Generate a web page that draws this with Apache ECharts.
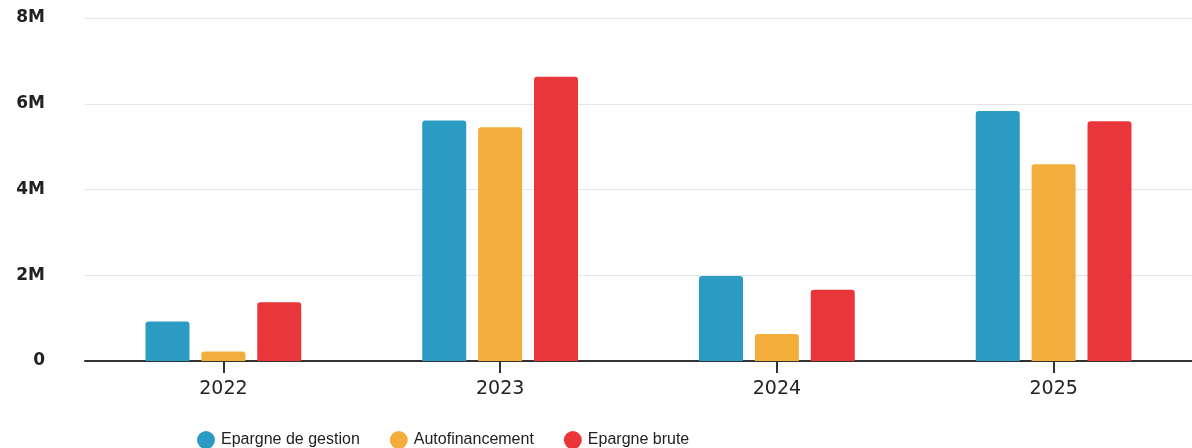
<!DOCTYPE html>
<html>
<head>
<meta charset="utf-8">
<script src="https://cdn.jsdelivr.net/npm/echarts@6/dist/echarts.min.js"></script>
<style>html,body{margin:0;padding:0;background:#fff;}#c{width:1192px;height:448px;}</style>
</head>
<body>
<div id="c"></div>
<script>
const categories = ['2022', '2023', '2024', '2025'];
const epargneGestion = [920000, 5610000, 1980000, 5830000];
const autofinancement = [220000, 5450000, 630000, 4590000];
const epargneBrute = [1370000, 6630000, 1660000, 5590000];
const yTicks = [0, 2000000, 4000000, 6000000, 8000000];

const chart = echarts.init(document.getElementById('c'));
const legendFont = 'Liberation Sans, Arial, sans-serif';
const axisFont = 'DejaVu Sans, Verdana, sans-serif';
function fmt(v) { return v === 0 ? '0' : (v / 1000000) + 'M'; }
const barBase = { type: 'bar', barWidth: 44, barGap: '27%', z: 3 };
chart.setOption({
  animation: false,
  grid: { left: 85, top: 18, width: 1112, height: 343 },
  legend: {
    left: 192, top: 426,
    icon: 'circle', itemWidth: 20, itemHeight: 18, itemGap: 30,
    textStyle: { fontFamily: legendFont, fontSize: 16, color: '#222' },
    data: ['Epargne de gestion', 'Autofinancement', 'Epargne brute']
  },
  xAxis: {
    type: 'category', data: categories,
    axisLine: { show: true, lineStyle: { color: '#333', width: 2 } },
    axisTick: { show: true, alignWithLabel: true, length: 12, lineStyle: { color: '#333', width: 2 } },
    axisLabel: { fontFamily: axisFont, fontSize: 19, color: '#222', margin: 19 },
    z: 1
  },
  yAxis: {
    type: 'value', min: yTicks[0], max: yTicks[yTicks.length - 1], interval: 2000000,
    axisLabel: { fontFamily: axisFont, fontSize: 17, fontWeight: 'bold', color: '#222', margin: 40, padding: [6, 0, 0, 0], formatter: fmt },
    splitLine: { lineStyle: { color: '#e4e6e8', width: 1 } },
    axisLine: { show: false }, axisTick: { show: false }
  },
  series: [
    Object.assign({}, barBase, { name: 'Epargne de gestion', data: epargneGestion, itemStyle: { color: '#2b9bc3', borderRadius: [3, 3, 0, 0] } }),
    Object.assign({}, barBase, { name: 'Autofinancement', data: autofinancement, itemStyle: { color: '#f3ad3a', borderRadius: [3, 3, 0, 0] } }),
    Object.assign({}, barBase, { name: 'Epargne brute', data: epargneBrute, itemStyle: { color: '#e8363a', borderRadius: [3, 3, 0, 0] } })
  ]
});
</script>
</body>
</html>
